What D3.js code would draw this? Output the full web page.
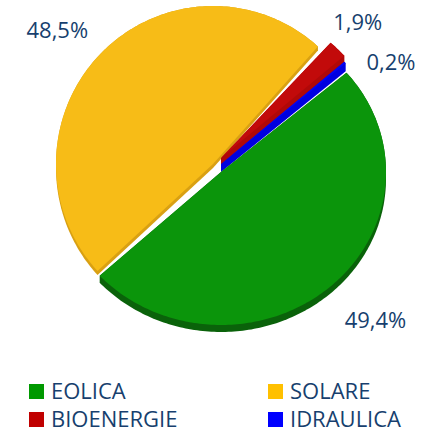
<!DOCTYPE html>
<html><head><meta charset="utf-8">
<script src="https://cdn.jsdelivr.net/npm/d3@7"></script>
<style>body{margin:0;background:#fff;}svg{display:block;}</style>
</head><body>
<script>
const categories = ["EOLICA", "SOLARE", "BIOENERGIE", "IDRAULICA"];
const values = [49.4, 48.5, 1.9, 0.2];
const labels = ["49,4%", "48,5%", "1,9%", "0,2%"];
const legendColors = ["#009900", "#ffc000", "#c00000", "#0000ff"];
const topColors = ["#0b950b", "#f7bc17", "#c20a0a", "#0404f2"];
const wallColors = ["#0a620a", "#d9a012", "#b00808", "#0000e0"];

const W = 429, H = 432;
const svg = d3.select("body").append("svg").attr("width", W).attr("height", H);

const cx = 221, cy = 164;
const deg = Math.PI / 180;
const pie = d3.pie().sort(null).value(d => d)
  .startAngle(49.5 * deg).endAngle(49.5 * deg + 2 * Math.PI);
const arcs = pie(values);

// per-slice geometry (layout): center offsets, radii, wall depth
const geo = [
  {dx: 0, dy: 8, rx: 165, ry: 153, depth: 7},
  {dx: -8, dy: 0, rx: 157, ry: 158, depth: 4},
  {dx: 0, dy: -6, rx: 164, ry: 155, depth: 7},
  {dx: 0, dy: 0, rx: 164, ry: 155, depth: 8}
];

function slicePoints(a, g, yoff) {
  const x0 = cx + g.dx, y0 = cy + g.dy + yoff;
  const n = Math.max(4, Math.ceil((a.endAngle - a.startAngle) / (1 * deg)));
  const pts = [[x0, y0]];
  for (let i = 0; i <= n; i++) {
    const t = a.startAngle + (a.endAngle - a.startAngle) * i / n;
    pts.push([x0 + Math.sin(t) * g.rx, y0 - Math.cos(t) * g.ry]);
  }
  return pts;
}
const line = d3.line().curve(d3.curveLinearClosed);

const drawOrder = [1, 2, 3, 0];
const gPie = svg.append("g");
drawOrder.forEach(i => {
  const a = arcs[i], g = geo[i];
  const top = slicePoints(a, g, 0);
  const hull = d3.polygonHull(top.concat(slicePoints(a, g, g.depth)));
  gPie.append("path").attr("d", line(hull)).attr("fill", wallColors[i]);
  gPie.append("path").attr("d", line(top)).attr("fill", topColors[i]);
});

// labels: placed relative to the rim point at each slice's mid angle
const labelNudge = [
  {ox: 45, oy: 42},
  {ox: -44, oy: -15},
  {ox: 20, oy: -19},
  {ox: 46, oy: 7}
];
const fontFam = "'Open Sans', 'Noto Sans', sans-serif";
const textColor = "#173f6e";
arcs.forEach((a, i) => {
  const g = geo[i], m = (a.startAngle + a.endAngle) / 2;
  const bx = cx + g.dx + Math.sin(m) * g.rx;
  const by = cy + g.dy - Math.cos(m) * g.ry;
  svg.append("text")
    .attr("x", bx + labelNudge[i].ox)
    .attr("y", by + labelNudge[i].oy)
    .attr("text-anchor", "middle")
    .attr("font-family", fontFam).attr("font-size", 22)
    .attr("fill", textColor)
    .text(labels[i]);
});

// legend
const legX = d3.scalePoint().domain([0, 1]).range([29, 268]);
const legY = d3.scalePoint().domain([0, 1]).range([384, 412]);
categories.forEach((c, i) => {
  const col = i % 2, row = Math.floor(i / 2);
  const x = legX(col), y = legY(row);
  svg.append("rect").attr("x", x).attr("y", y).attr("width", 15).attr("height", 15)
    .attr("fill", legendColors[i]);
  svg.append("text").attr("x", x + 22).attr("y", y + 15)
    .attr("font-family", fontFam).attr("font-size", 22)
    .attr("fill", textColor).text(c);
});
</script>
</body></html>
